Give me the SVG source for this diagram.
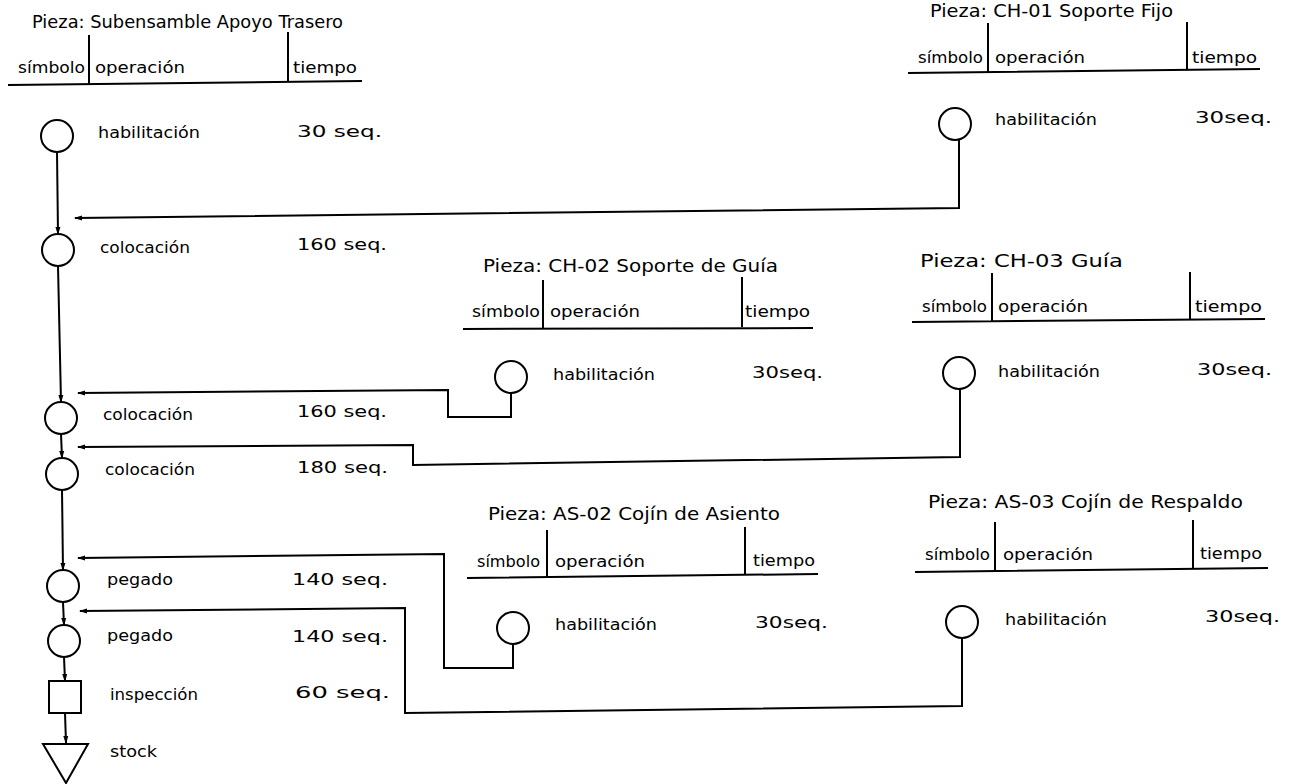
<svg xmlns="http://www.w3.org/2000/svg" width="1292" height="784" viewBox="0 0 1292 784">
<style>
text{font-family:"DejaVu Sans","Liberation Sans",sans-serif;fill:#000;}
.t{font-size:17px;}
.h{font-size:15px;}
.l{font-size:15px;}
.n{font-size:16px;}
.sym{fill:none;stroke:#000;stroke-width:2;}
.rule{stroke:#000;stroke-width:2;fill:none;}
.con{fill:none;stroke:#000;stroke-width:2;}
</style>
<defs>
<marker id="ah" markerUnits="userSpaceOnUse" markerWidth="8" markerHeight="6" refX="7" refY="3" orient="auto">
<path d="M0,0.5 L8,3 L0,5.5 Z" fill="#000"/>
</marker>
</defs>
<rect width="1292" height="784" fill="#fff"/>

<g id="connectors">
<path class="con" d="M57,152 L58,234" marker-end="url(#ah)"/>
<path class="con" d="M58,266 L61,402" marker-end="url(#ah)"/>
<path class="con" d="M61,434 L62,458" marker-end="url(#ah)"/>
<path class="con" d="M62,490 L63,570" marker-end="url(#ah)"/>
<path class="con" d="M63,602 L64,625" marker-end="url(#ah)"/>
<path class="con" d="M64,657 L65,681" marker-end="url(#ah)"/>
<path class="con" d="M65,713 L66,743" marker-end="url(#ah)"/>
<path class="con" d="M959,140 L959,208 L75,218" marker-end="url(#ah)"/>
<path class="con" d="M511,393 L511,417 L448,417 L448,390 L78,393" marker-end="url(#ah)"/>
<path class="con" d="M960,389 L960,457 L413,465 L413,445 L78,447" marker-end="url(#ah)"/>
<path class="con" d="M513,644 L513,668 L444,668 L444,554 L78,558" marker-end="url(#ah)"/>
<path class="con" d="M962,638 L962,706 L405,713 L405,608 L80,611" marker-end="url(#ah)"/>
</g>

<g id="table-main">
<text class="t" x="32" y="28" textLength="311" lengthAdjust="spacingAndGlyphs">Pieza: Subensamble Apoyo Trasero</text>
<path class="rule" d="M89,35 L89,85 M288,32 L288,82 M8,85 L362,81"/>
<text class="h" x="18" y="73" textLength="67" lengthAdjust="spacingAndGlyphs">símbolo</text>
<text class="h" x="95" y="73" textLength="90" lengthAdjust="spacingAndGlyphs">operación</text>
<text class="h" x="293" y="73" textLength="64" lengthAdjust="spacingAndGlyphs">tiempo</text>
</g>

<g id="op-habilitacion-main">
<circle class="sym" cx="57" cy="136" r="16"/>
<text class="l" x="98" y="138" textLength="102" lengthAdjust="spacingAndGlyphs">habilitación</text>
<text class="n" x="297" y="137" textLength="85" lengthAdjust="spacingAndGlyphs">30 seq.</text>
</g>
<g id="op-colocacion-1">
<circle class="sym" cx="58" cy="250" r="16"/>
<text class="l" x="100" y="253" textLength="90" lengthAdjust="spacingAndGlyphs">colocación</text>
<text class="n" x="297" y="250" textLength="90" lengthAdjust="spacingAndGlyphs">160 seq.</text>
</g>
<g id="op-colocacion-2">
<circle class="sym" cx="61" cy="418" r="16"/>
<text class="l" x="103" y="420" textLength="90" lengthAdjust="spacingAndGlyphs">colocación</text>
<text class="n" x="297" y="417" textLength="90" lengthAdjust="spacingAndGlyphs">160 seq.</text>
</g>
<g id="op-colocacion-3">
<circle class="sym" cx="62" cy="474" r="16"/>
<text class="l" x="105" y="475" textLength="90" lengthAdjust="spacingAndGlyphs">colocación</text>
<text class="n" x="297" y="473" textLength="91" lengthAdjust="spacingAndGlyphs">180 seq.</text>
</g>
<g id="op-pegado-1">
<circle class="sym" cx="63" cy="586" r="16"/>
<text class="l" x="107" y="585" textLength="66" lengthAdjust="spacingAndGlyphs">pegado</text>
<text class="n" x="292" y="585" textLength="96" lengthAdjust="spacingAndGlyphs">140  seq.</text>
</g>
<g id="op-pegado-2">
<circle class="sym" cx="64" cy="641" r="16"/>
<text class="l" x="107" y="641" textLength="66" lengthAdjust="spacingAndGlyphs">pegado</text>
<text class="n" x="292" y="642" textLength="96" lengthAdjust="spacingAndGlyphs">140  seq.</text>
</g>
<g id="op-inspeccion">
<rect class="sym" x="49" y="681" width="32" height="32"/>
<text class="l" x="110" y="700" textLength="88" lengthAdjust="spacingAndGlyphs">inspección</text>
<text class="n" x="295" y="698" textLength="95" lengthAdjust="spacingAndGlyphs">60  seq.</text>
</g>
<g id="op-stock">
<path class="sym" d="M43,744 L88,744 L66,783 Z"/>
<text class="l" x="110" y="757" textLength="47" lengthAdjust="spacingAndGlyphs">stock</text>
</g>

<g id="part-ch01">
<text class="t" x="930" y="17" textLength="243" lengthAdjust="spacingAndGlyphs">Pieza: CH-01 Soporte Fijo</text>
<path class="rule" d="M988,23 L988,72 M1187,22 L1187,70 M908,73 L1260,69"/>
<text class="h" x="918" y="63" textLength="65" lengthAdjust="spacingAndGlyphs">símbolo</text>
<text class="h" x="995" y="63" textLength="90" lengthAdjust="spacingAndGlyphs">operación</text>
<text class="h" x="1192" y="63" textLength="65" lengthAdjust="spacingAndGlyphs">tiempo</text>
<circle class="sym" cx="955" cy="124" r="16"/>
<text class="l" x="995" y="125" textLength="102" lengthAdjust="spacingAndGlyphs">habilitación</text>
<text class="n" x="1195" y="123" textLength="77" lengthAdjust="spacingAndGlyphs">30seq.</text>
</g>

<g id="part-ch02">
<text class="t" x="483" y="272" textLength="295" lengthAdjust="spacingAndGlyphs">Pieza: CH-02 Soporte de Guía</text>
<path class="rule" d="M543,280 L543,328 M742,277 L742,327 M463,329 L813,328"/>
<text class="h" x="472" y="317" textLength="68" lengthAdjust="spacingAndGlyphs">símbolo</text>
<text class="h" x="550" y="317" textLength="90" lengthAdjust="spacingAndGlyphs">operación</text>
<text class="h" x="745" y="317" textLength="65" lengthAdjust="spacingAndGlyphs">tiempo</text>
<circle class="sym" cx="511" cy="377" r="16"/>
<text class="l" x="553" y="380" textLength="102" lengthAdjust="spacingAndGlyphs">habilitación</text>
<text class="n" x="752" y="378" textLength="71" lengthAdjust="spacingAndGlyphs">30seq.</text>
</g>

<g id="part-ch03">
<text class="t" x="920" y="267" textLength="203" lengthAdjust="spacingAndGlyphs">Pieza: CH-03 Guía</text>
<path class="rule" d="M992,273 L992,322 M1190,272 L1190,320 M912,322 L1265,319"/>
<text class="h" x="922" y="312" textLength="65" lengthAdjust="spacingAndGlyphs">símbolo</text>
<text class="h" x="998" y="312" textLength="90" lengthAdjust="spacingAndGlyphs">operación</text>
<text class="h" x="1195" y="312" textLength="67" lengthAdjust="spacingAndGlyphs">tiempo</text>
<circle class="sym" cx="959" cy="373" r="16"/>
<text class="l" x="998" y="377" textLength="102" lengthAdjust="spacingAndGlyphs">habilitación</text>
<text class="n" x="1197" y="375" textLength="75" lengthAdjust="spacingAndGlyphs">30seq.</text>
</g>

<g id="part-as02">
<text class="t" x="488" y="520" textLength="292" lengthAdjust="spacingAndGlyphs">Pieza: AS-02 Cojín de Asiento</text>
<path class="rule" d="M547,530 L547,577 M745,527 L745,575 M467,578 L818,574"/>
<text class="h" x="477" y="567" textLength="63" lengthAdjust="spacingAndGlyphs">símbolo</text>
<text class="h" x="555" y="567" textLength="90" lengthAdjust="spacingAndGlyphs">operación</text>
<text class="h" x="753" y="566" textLength="62" lengthAdjust="spacingAndGlyphs">tiempo</text>
<circle class="sym" cx="513" cy="628" r="16"/>
<text class="l" x="555" y="630" textLength="102" lengthAdjust="spacingAndGlyphs">habilitación</text>
<text class="n" x="755" y="628" textLength="73" lengthAdjust="spacingAndGlyphs">30seq.</text>
</g>

<g id="part-as03">
<text class="t" x="928" y="508" textLength="315" lengthAdjust="spacingAndGlyphs">Pieza: AS-03 Cojín de Respaldo</text>
<path class="rule" d="M995,522 L995,570 M1193,520 L1193,568 M915,572 L1268,568"/>
<text class="h" x="925" y="560" textLength="65" lengthAdjust="spacingAndGlyphs">símbolo</text>
<text class="h" x="1003" y="560" textLength="90" lengthAdjust="spacingAndGlyphs">operación</text>
<text class="h" x="1200" y="559" textLength="62" lengthAdjust="spacingAndGlyphs">tiempo</text>
<circle class="sym" cx="962" cy="622" r="16"/>
<text class="l" x="1005" y="625" textLength="102" lengthAdjust="spacingAndGlyphs">habilitación</text>
<text class="n" x="1205" y="622" textLength="75" lengthAdjust="spacingAndGlyphs">30seq.</text>
</g>
</svg>
